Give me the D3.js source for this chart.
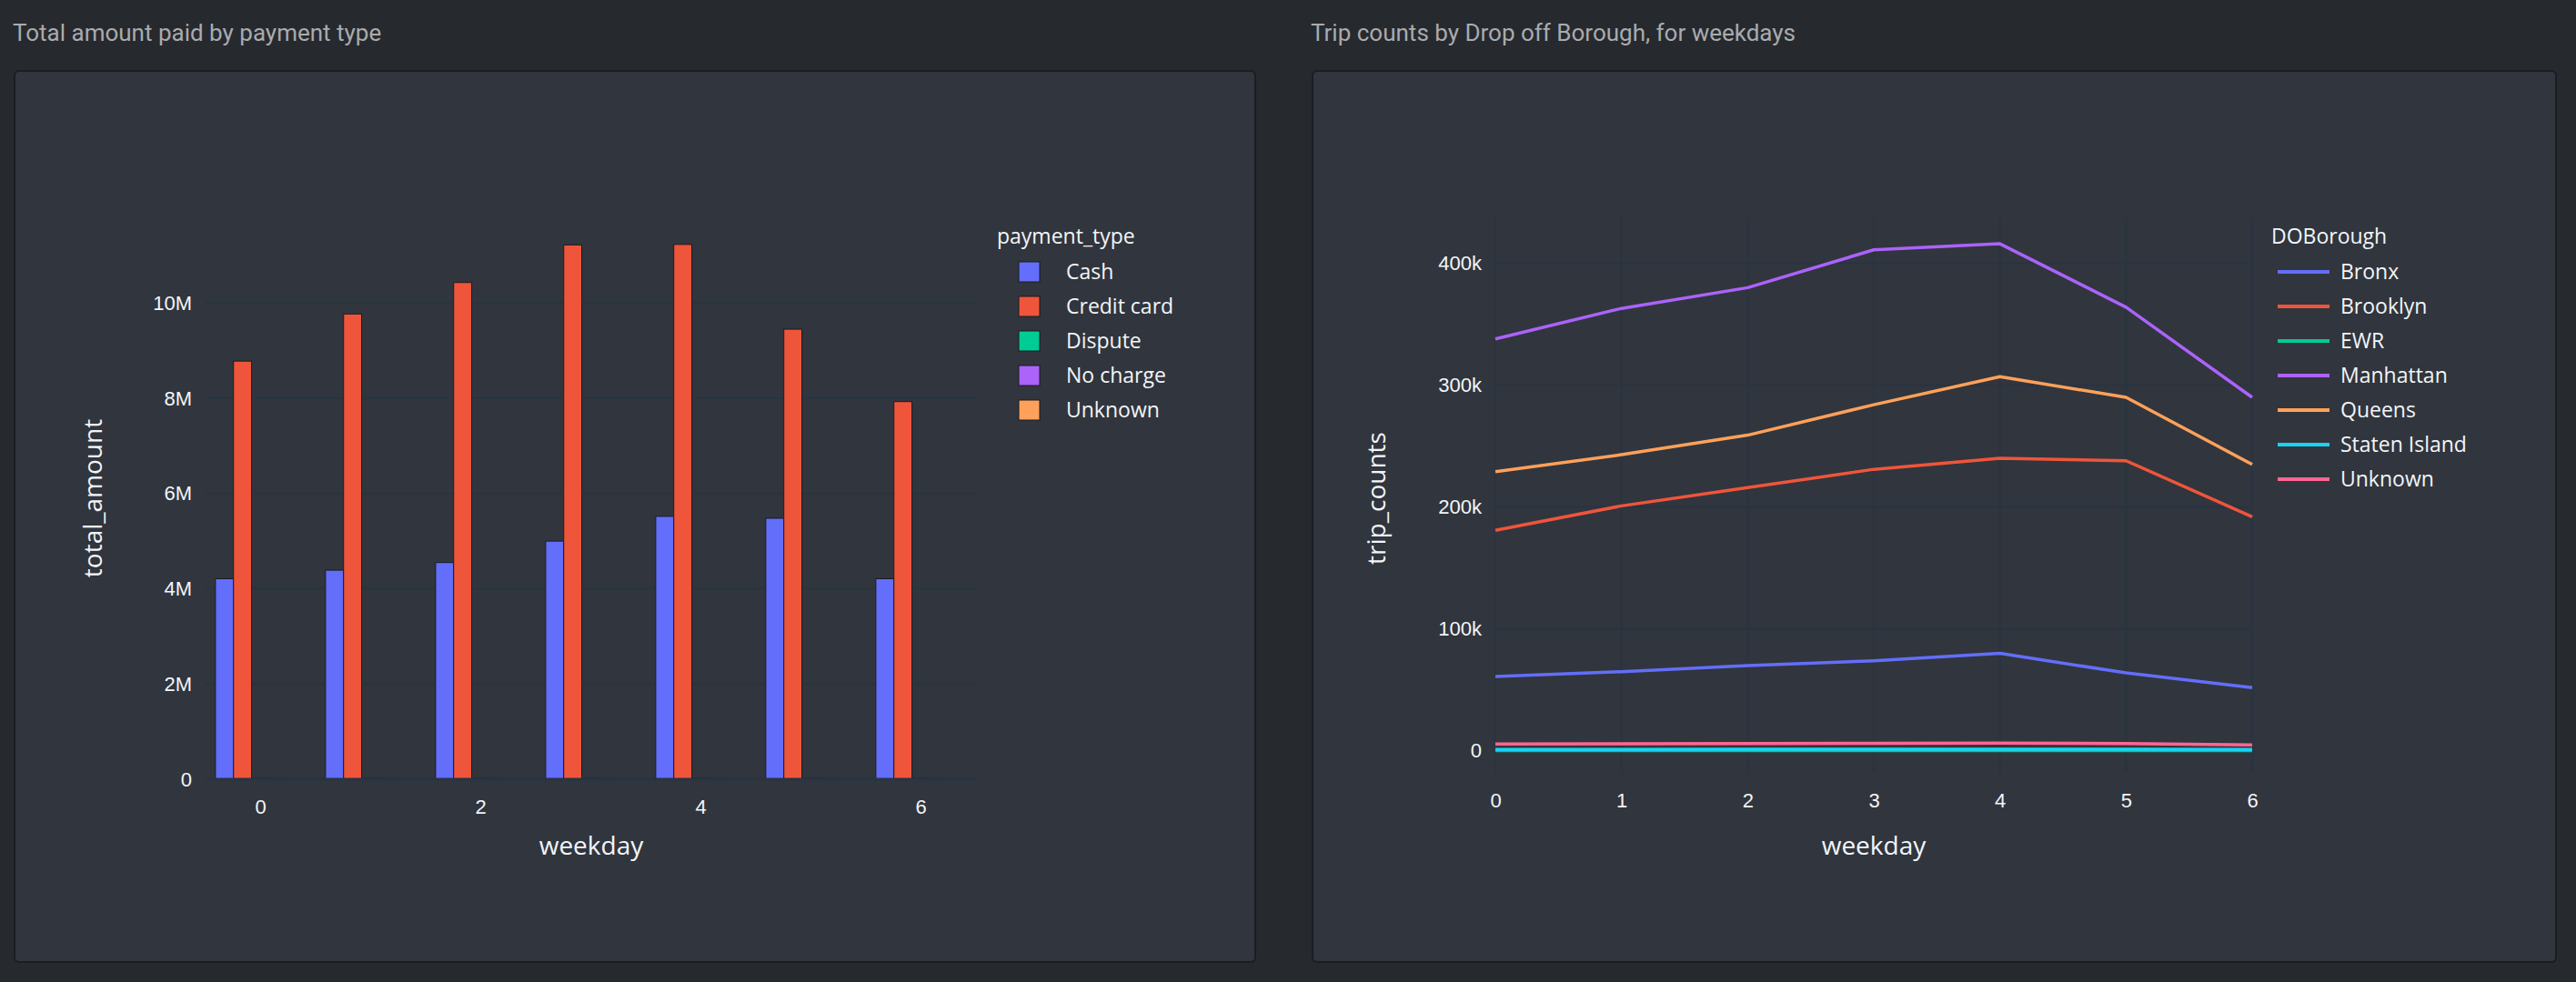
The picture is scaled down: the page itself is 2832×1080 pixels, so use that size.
<!DOCTYPE html>
<html>
<head>
<meta charset="utf-8">
<script src="https://cdn.jsdelivr.net/npm/d3@7"></script>
<style>
  body { margin: 0; background: #26292e; font-family: "Open Sans", "Noto Sans", sans-serif; }
  svg { display: block; }
</style>
</head>
<body>
<svg id="chart" width="2832" height="1080"></svg>
<script>
// weekdays
const weekdays = [0, 1, 2, 3, 4, 5, 6];

// left chart: total amount by payment type
const paymentTypes = ["Cash", "Credit card", "Dispute", "No charge", "Unknown"];
const cashAmount = [4.21e6, 4.39e6, 4.55e6, 5.0e6, 5.52e6, 5.48e6, 4.21e6];
const creditAmount = [8.78e6, 9.77e6, 10.43e6, 11.22e6, 11.23e6, 9.45e6, 7.93e6];
const disputeAmount = [2.2e4, 2.1e4, 2.0e4, 2.2e4, 2.3e4, 2.1e4, 1.9e4];
const noChargeAmount = [1.4e4, 1.5e4, 1.4e4, 1.5e4, 1.6e4, 1.5e4, 1.3e4];
const unknownAmount = [2e3, 2e3, 2e3, 2e3, 2e3, 2e3, 2e3];
const amountSeries = [cashAmount, creditAmount, disputeAmount, noChargeAmount, unknownAmount];
const amountTicks = [0, 2e6, 4e6, 6e6, 8e6, 10e6];

// right chart: trip counts by drop-off borough
const boroughs = ["Bronx", "Brooklyn", "EWR", "Manhattan", "Queens", "Staten Island", "Unknown"];
const bronx = [61000, 65000, 70000, 74000, 80000, 64000, 52000];
const brooklyn = [181000, 201000, 216000, 231000, 240000, 238000, 192000];
const ewr = [300, 320, 330, 340, 350, 330, 300];
const manhattan = [338000, 363000, 380000, 411000, 416000, 364000, 290000];
const queens = [229000, 243000, 259000, 284000, 307000, 290000, 235000];
const statenIsland = [1200, 1250, 1300, 1300, 1350, 1300, 1150];
const unknownTrips = [5600, 5800, 6000, 6200, 6500, 6000, 5000];
const tripSeries = [bronx, brooklyn, ewr, manhattan, queens, statenIsland, unknownTrips];
const tripTicks = [0, 100000, 200000, 300000, 400000];

const colors = ["#636efa", "#EF553B", "#00cc96", "#ab63fa", "#FFA15A", "#19d3f3", "#FF6692"];
const gridColor = "#283442";
const textColor = "#f2f5fa";

const svg = d3.select("#chart");

function panel(x, y, w, h, title) {
  svg.append("text").attr("x", x - 2).attr("y", y - 33)
    .attr("fill", "#a9abae").attr("font-size", 26).attr("font-family", "Roboto, sans-serif")
    .text(title);
  svg.append("rect").attr("x", x).attr("y", y).attr("width", w).attr("height", h)
    .attr("rx", 5).attr("fill", "#31353d").attr("stroke", "#1b1d21").attr("stroke-width", 2);
}

function axisTitles(cx, cy, yx, yTitle) {
  svg.append("text").attr("x", cx).attr("y", 940).attr("text-anchor", "middle")
    .attr("fill", textColor).attr("font-size", 28).text("weekday");
  svg.append("text").attr("transform", `translate(${yx},${cy}) rotate(-90)`)
    .attr("text-anchor", "middle").attr("fill", textColor).attr("font-size", 28).text(yTitle);
}

// ---------- left: grouped bars ----------
panel(16, 78, 1364, 980, "Total amount paid by payment type");

const x1 = d3.scaleBand().domain(weekdays).range([226, 1073]).paddingInner(0.18).paddingOuter(0.09);
const xSub = d3.scaleBand().domain(d3.range(paymentTypes.length)).range([0, x1.bandwidth()]);
const y1 = d3.scaleLinear().domain([0, 11.8e6]).range([857, 239]);

const g1 = svg.append("g");
g1.selectAll("line.grid").data(amountTicks.slice(1)).join("line")
  .attr("x1", 226).attr("x2", 1073).attr("y1", d => y1(d)).attr("y2", d => y1(d))
  .attr("stroke", gridColor).attr("stroke-width", 2);

paymentTypes.forEach((p, i) => {
  g1.selectAll(`rect.s${i}`).data(weekdays).join("rect")
    .attr("x", d => x1(d) + xSub(i))
    .attr("width", xSub.bandwidth())
    .attr("y", d => y1(amountSeries[i][d]))
    .attr("height", d => y1(0) - y1(amountSeries[i][d]))
    .attr("fill", colors[i]).attr("stroke", "#1b1d21").attr("stroke-width", 1);
});
g1.append("line").attr("x1", 226).attr("x2", 1073).attr("y1", y1(0)).attr("y2", y1(0))
  .attr("stroke", gridColor).attr("stroke-width", 3);

const yAxis1 = g1.append("g").attr("transform", "translate(214,0)")
  .call(d3.axisLeft(y1).tickValues(amountTicks).tickSize(0)
    .tickFormat(d => d === 0 ? "0" : d / 1e6 + "M"));
const xAxis1 = g1.append("g").attr("transform", "translate(0,872)")
  .call(d3.axisBottom(x1).tickValues([0, 2, 4, 6]).tickSize(0));
[yAxis1, xAxis1].forEach(a => {
  a.select(".domain").remove();
  a.selectAll("text").attr("fill", textColor).attr("font-size", 22);
});
xAxis1.selectAll("text").attr("dy", "0.9em");
axisTitles(650, 548, 112, "total_amount");

// legend left
const lg1 = svg.append("g").attr("transform", "translate(1096,0)");
lg1.append("text").attr("x", 0).attr("y", 268).attr("fill", textColor).attr("font-size", 23).text("payment_type");
paymentTypes.forEach((p, i) => {
  const yy = 299 + i * 38;
  lg1.append("rect").attr("x", 24).attr("y", yy - 11).attr("width", 23).attr("height", 22)
    .attr("fill", colors[i]).attr("stroke", "#1b1d21");
  lg1.append("text").attr("x", 76).attr("y", yy + 8).attr("fill", textColor).attr("font-size", 23).text(p);
});

// ---------- right: lines ----------
panel(1443, 78, 1367, 980, "Trip counts by Drop off Borough, for weekdays");

const x2 = d3.scaleLinear().domain([0, 6]).range([1644, 2476]);
const y2 = d3.scaleLinear().domain([-18000, 437700]).range([850, 239]);

const g2 = svg.append("g");
g2.selectAll("line.vg").data(weekdays).join("line")
  .attr("x1", d => x2(d)).attr("x2", d => x2(d)).attr("y1", 239).attr("y2", 850)
  .attr("stroke", gridColor).attr("stroke-width", 2);
g2.selectAll("line.hg").data(tripTicks).join("line")
  .attr("x1", 1644).attr("x2", 2476).attr("y1", d => y2(d)).attr("y2", d => y2(d))
  .attr("stroke", gridColor).attr("stroke-width", d => d === 0 ? 3 : 2);

const line = d3.line().x((d, i) => x2(weekdays[i])).y(d => y2(d));
boroughs.forEach((b, i) => {
  g2.append("path").datum(tripSeries[i]).attr("d", line)
    .attr("fill", "none").attr("stroke", colors[i]).attr("stroke-width", 3.5)
    .attr("stroke-linejoin", "round");
});

const yAxis2 = g2.append("g").attr("transform", "translate(1632,0)")
  .call(d3.axisLeft(y2).tickValues(tripTicks).tickSize(0)
    .tickFormat(d => d === 0 ? "0" : d / 1000 + "k"));
const xAxis2 = g2.append("g").attr("transform", "translate(0,865)")
  .call(d3.axisBottom(x2).tickValues(weekdays).tickSize(0).tickFormat(d3.format("d")));
[yAxis2, xAxis2].forEach(a => {
  a.select(".domain").remove();
  a.selectAll("text").attr("fill", textColor).attr("font-size", 22);
});
xAxis2.selectAll("text").attr("dy", "0.9em");
axisTitles(2060, 548, 1523, "trip_counts");

// legend right
const lg2 = svg.append("g").attr("transform", "translate(2497,0)");
lg2.append("text").attr("x", 0).attr("y", 268).attr("fill", textColor).attr("font-size", 23).text("DOBorough");
boroughs.forEach((b, i) => {
  const yy = 299 + i * 38;
  lg2.append("line").attr("x1", 7).attr("x2", 64).attr("y1", yy).attr("y2", yy)
    .attr("stroke", colors[i]).attr("stroke-width", 4);
  lg2.append("text").attr("x", 76).attr("y", yy + 8).attr("fill", textColor).attr("font-size", 23).text(b);
});
</script>
</body>
</html>
